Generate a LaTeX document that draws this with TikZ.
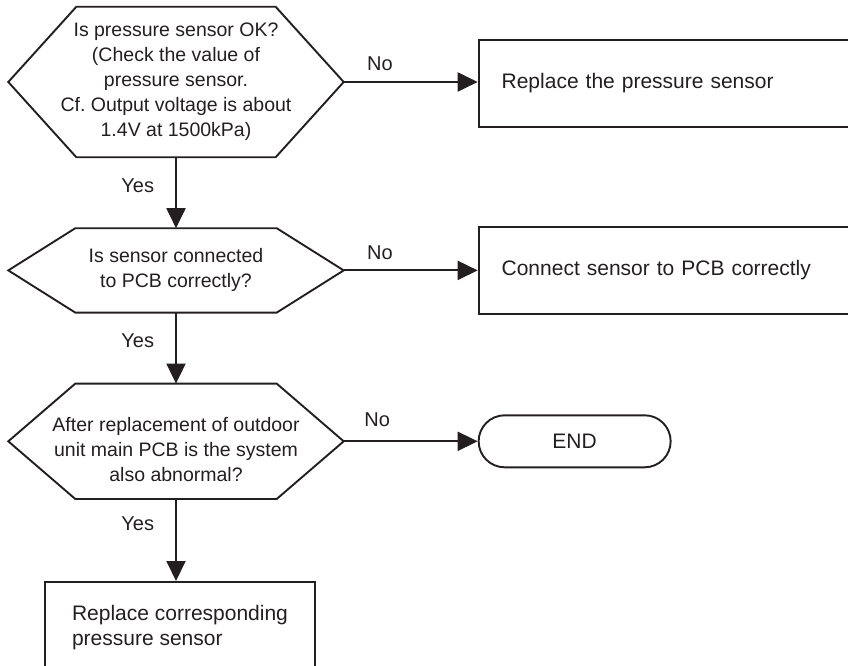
\documentclass[tikz,border=0pt]{standalone}
\usepackage{fontspec}
\setmainfont{Liberation Sans}
\usepackage{tikz}
\usetikzlibrary{arrows.meta, positioning, calc}
\definecolor{chartink}{RGB}{35, 31, 32}

% hexagon outline round a decision node, #2 = length of the point
\newcommand{\hexframe}[2]{%
  \draw[hexline] ($(#1.north west)+(#2,0)$) -- ($(#1.north east)-(#2,0)$) -- (#1.east)
    -- ($(#1.south east)-(#2,0)$) -- ($(#1.south west)+(#2,0)$) -- (#1.west) -- cycle;}

\begin{document}
\begin{tikzpicture}[
    x=1pt, y=-1pt,
    ask/.style={rectangle, minimum width=335pt, inner sep=0pt, align=center,
                font=\fontsize{19.5}{25}\selectfont, text=chartink},
    hexline/.style={draw=chartink, line width=1.9pt, line join=miter},
    act/.style={rectangle, draw=chartink, line width=1.9pt, align=left,
                text width=400pt, inner xsep=23pt, minimum height=87pt,
                font=\fontsize{21}{25}\selectfont, text=chartink},
    fixbox/.style={rectangle, draw=chartink, line width=1.9pt, align=left,
                   minimum width=270pt, minimum height=91pt,
                   font=\fontsize{21}{25}\selectfont, text=chartink},
    term/.style={rectangle, rounded corners=26pt, draw=chartink, line width=1.9pt,
                 minimum width=192pt, minimum height=52pt,
                 font=\fontsize{21}{25}\selectfont, text=chartink},
    arr/.style={-{Triangle[length=20pt, width=19pt]}, line width=1.9pt, draw=chartink},
    lbl/.style={inner sep=0pt, font=\fontsize{20}{24}\selectfont, text=chartink}
]
\useasboundingbox (0,0) rectangle (848,666);
\clip (0,0) rectangle (848,666);

% Decisions
\node[ask, minimum height=150pt] (q1) at (176,82)
  {Is pressure sensor OK?\\(Check the value of\\pressure sensor.\\Cf.\ Output voltage is about\\1.4V at 1500kPa)};
\node[ask, minimum height=84pt, below=71pt of q1] (q2) {Is sensor connected\\to PCB correctly?};
\node[ask, minimum height=115pt, below=71pt of q2] (q3)
  {\rule{0pt}{31pt}After replacement of outdoor\\unit main PCB is the system\\also abnormal?};
\hexframe{q1}{68}
\hexframe{q2}{67}
\hexframe{q3}{67}

% Actions
\node[act, right=134pt of q1, yshift=-1.5pt] (swap) {Replace the pressure sensor};
\node[act, right=134pt of q2] (plug) {Connect sensor to PCB correctly};
\node[term, right=134pt of q3] (stop) {END};
\node[fixbox, below=82pt of q3, xshift=4pt] (fix) {Replace corresponding\\pressure sensor};

% Arrows
\draw[arr] (q1) -- node[lbl, left=21pt, pos=0.4] {Yes} (q2);
\draw[arr] (q2) -- node[lbl, left=21pt, pos=0.4] {Yes} (q3);
\draw[arr] (q3.south) -- node[lbl, left=21pt, pos=0.3] {Yes} (q3.south |- fix.north);
\draw[arr] (q1.east) -- node[lbl, above=10pt, pos=0.27] {No} (q1.east -| swap.west);
\draw[arr] (q2) -- node[lbl, above=10pt, pos=0.27] {No} (plug);
\draw[arr] (q3) -- node[lbl, above=14pt, pos=0.25] {No} (stop);

\end{tikzpicture}
\end{document}
